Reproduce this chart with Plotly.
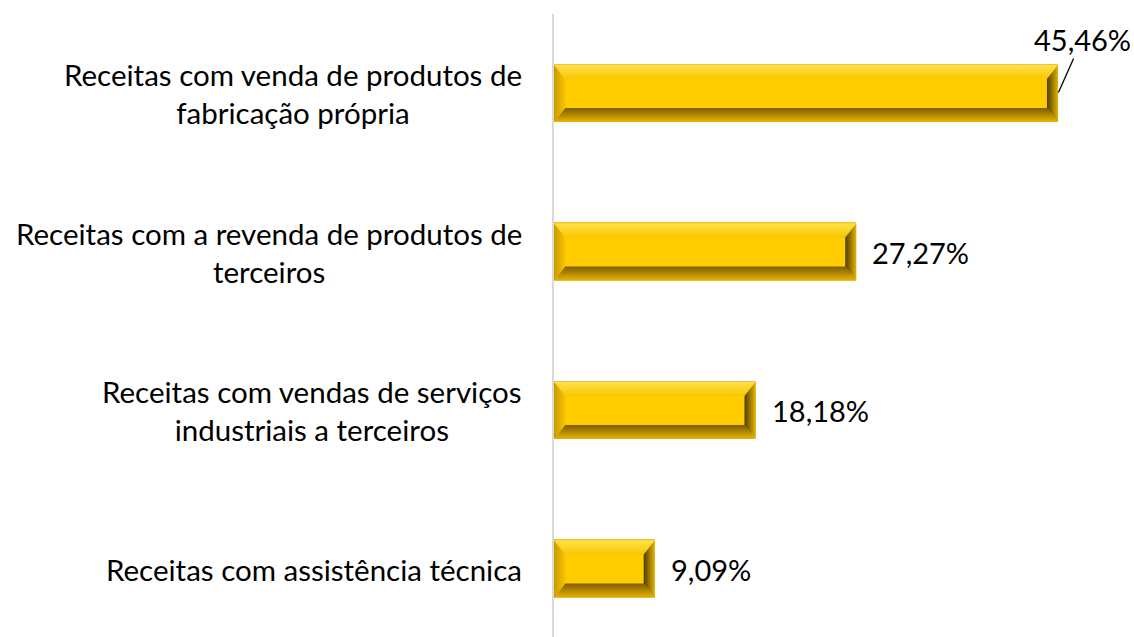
import plotly.graph_objects as go

# Revenue sources and their shares (%)
categories = [
    "Receitas com venda de produtos de<br>fabricação própria",
    "Receitas com a revenda de produtos de<br>terceiros",
    "Receitas com vendas de serviços<br>industriais a terceiros",
    "Receitas com assistência técnica",
]
shares = [45.46, 27.27, 18.18, 9.09]
positions = [3, 2, 1, 0]  # top to bottom

FONT = "Lato"
LABEL_SIZE = 29.5
VALUE_SIZE = 29
FACE = "#ffcc00"
half_h = 0.18   # half bar thickness (y units)
bev_x = 1.0     # bevel width (x units)
bev_y = 0.088   # bevel height (y units)

fig = go.Figure()

fig.add_trace(go.Bar(
    x=shares, y=positions, orientation="h", width=2 * half_h,
    marker=dict(color=FACE, line=dict(color="#e9c44a", width=1)),
    hoverinfo="skip", showlegend=False,
))


def bevel(xs, ys, kind, c0, c1, start, stop):
    fig.add_trace(go.Scatter(
        x=xs + [xs[0]], y=ys + [ys[0]], mode="lines", fill="toself",
        line=dict(width=0), fillcolor=c1,
        fillgradient=dict(type=kind, colorscale=[[0, c0], [1, c1]],
                          start=start, stop=stop),
        hoverinfo="skip", showlegend=False,
    ))


for v, c in zip(shares, positions):
    top, bot = c + half_h, c - half_h
    itop, ibot = top - bev_y, bot + bev_y
    # top bevel: bright outer edge to face colour
    bevel([0, v, v - bev_x, bev_x], [top, top, itop, itop],
          "vertical", "#ffe14a", "#f7c600", top, itop)
    # bottom bevel: dark inner edge to gold outer edge
    bevel([0, v, v - bev_x, bev_x], [bot, bot, ibot, ibot],
          "vertical", "#e8b400", "#7d5d00", bot, ibot)
    # left bevel
    bevel([0, 0, bev_x, bev_x], [bot, top, itop, ibot],
          "horizontal", "#c99a00", "#f5c400", 0, bev_x)
    # right bevel: dark inner edge
    bevel([v, v, v - bev_x, v - bev_x], [bot, top, itop, ibot],
          "horizontal", "#e6b400", "#4f3b00", v, v - bev_x)

# category labels to the left of the axis
for text, c in zip(categories, positions):
    fig.add_annotation(
        x=0, y=c, xref="x", yref="y", text=text, showarrow=False,
        xanchor="right", yanchor="middle", align="center", xshift=-30,
        font=dict(family=FONT, size=LABEL_SIZE, color="#000000"),
    )

# value labels
for i, (v, c) in enumerate(zip(shares, positions)):
    label = f"{v:.2f}".replace(".", ",") + "%"
    if i == 0:
        fig.add_annotation(
            x=v, y=c, xref="x", yref="y", text=label, showarrow=True,
            arrowhead=0, arrowwidth=1.3, arrowcolor="#000000",
            ax=24, ay=-54, standoff=1,
            font=dict(family=FONT, size=VALUE_SIZE, color="#000000"),
        )
    else:
        fig.add_annotation(
            x=v, y=c, xref="x", yref="y", text=label, showarrow=False,
            xanchor="left", yanchor="middle", xshift=14,
            font=dict(family=FONT, size=VALUE_SIZE, color="#000000"),
        )

fig.update_layout(
    width=1134, height=637,
    margin=dict(l=554, r=3, t=14, b=0),
    paper_bgcolor="white", plot_bgcolor="white",
    bargap=0,
    xaxis=dict(range=[0, 52.04], visible=False, showgrid=False, zeroline=False),
    yaxis=dict(range=[-0.429, 3.5016], showgrid=False, zeroline=False,
               showticklabels=False, ticks="", showline=True,
               linecolor="#d9d9d9", linewidth=2),
    font=dict(family=FONT),
)

fig.write_html("out.html")
